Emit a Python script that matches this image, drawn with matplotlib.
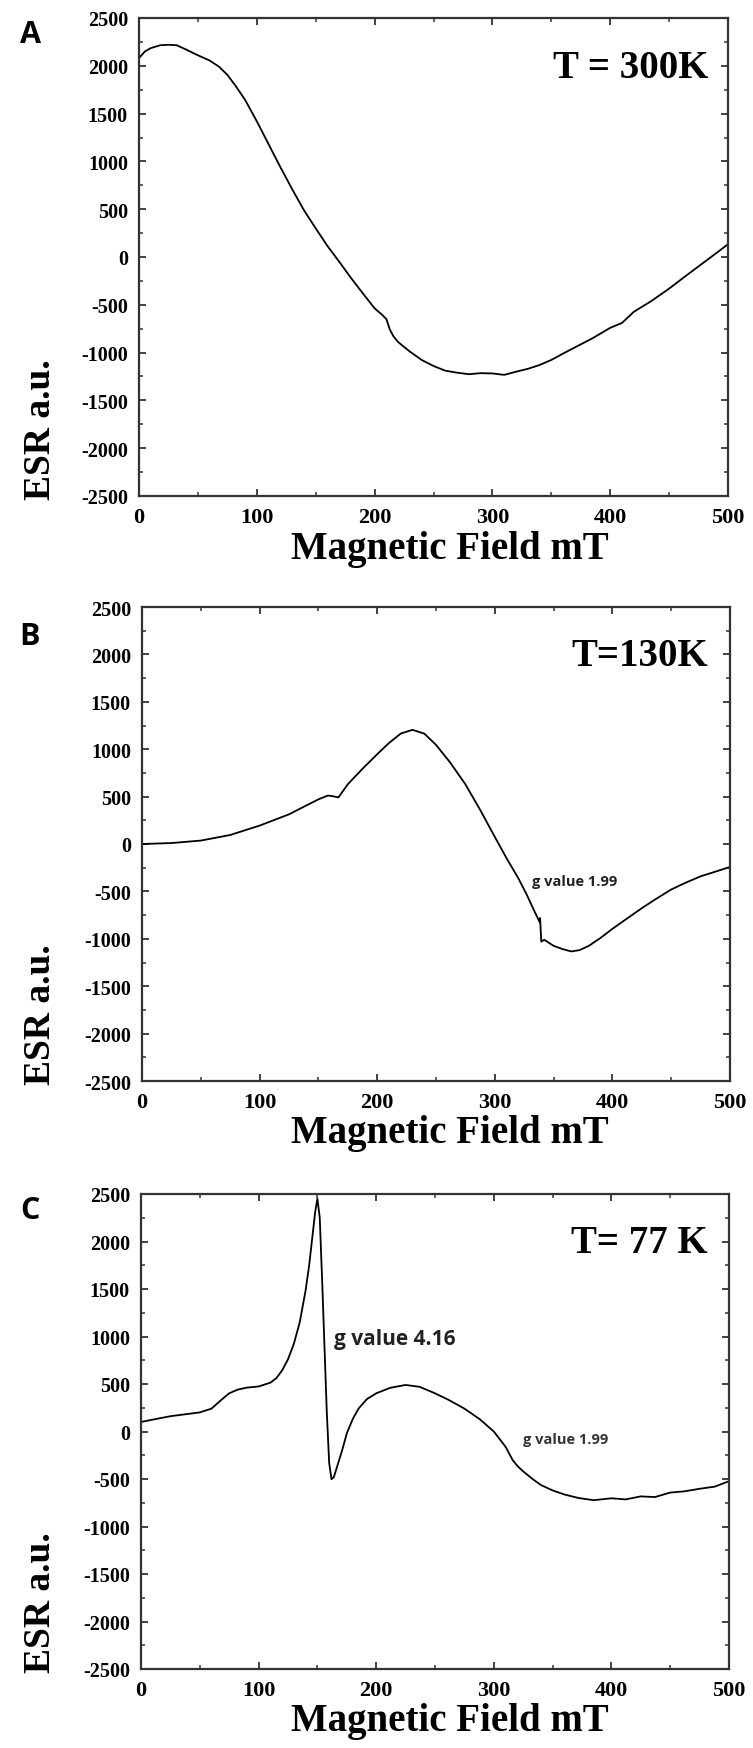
import numpy as np
import matplotlib
matplotlib.use("Agg")
import matplotlib.pyplot as plt
from matplotlib.ticker import MultipleLocator

plt.rcParams["axes.unicode_minus"] = False

# ESR spectra (field in mT, signal in a.u.)
field_300k = [0, 5, 10, 18, 25, 32, 40, 50, 60, 68, 75, 82, 90, 100, 110, 120, 130, 140,
              150, 160, 170, 180, 190, 200, 206, 210, 213, 216, 220, 230, 240, 250, 260,
              270, 280, 290, 300, 310, 320, 330, 340, 350, 360, 370, 385, 400, 410, 420,
              435, 450, 465, 480, 490, 500]
signal_300k = [2080, 2150, 2185, 2215, 2220, 2215, 2170, 2110, 2055, 1990, 1905, 1790, 1645,
               1420, 1180, 940, 710, 490, 300, 115, -50, -220, -380, -537, -600, -650, -760,
               -830, -890, -990, -1077, -1140, -1189, -1210, -1226, -1215, -1218, -1233, -1200,
               -1170, -1130, -1077, -1010, -946, -850, -741, -690, -574, -460, -331, -190,
               -52, 40, 134]

field_130k = [0, 25, 50, 75, 100, 125, 150, 158, 162, 167, 175, 188, 200, 210, 220, 230, 240,
              250, 262, 275, 288, 300, 310, 320, 327, 334, 338, 338.5, 339.5, 342, 350, 358,
              365, 372, 380, 390, 400, 412, 425, 437, 450, 462, 475, 488, 500]
signal_130k = [0, 10, 36, 95, 194, 313, 471, 511, 505, 491, 630, 800, 947, 1065, 1165, 1204, 1165,
               1046, 860, 630, 350, 75, -150, -361, -530, -717, -820, -780, -1030, -1010, -1074,
               -1110, -1133, -1120, -1074, -990, -895, -790, -677, -580, -480, -410, -341, -290,
               -242]

field_77k = [0, 10, 25, 40, 50, 60, 68, 75, 82, 90, 100, 110, 115, 120, 125, 130, 135, 140, 143,
             146, 148, 150, 152, 154, 156, 158, 160, 162, 164, 167, 171, 175, 180, 185, 192, 200,
             212, 225, 237, 250, 262, 275, 288, 300, 310, 316, 320, 325, 333, 340, 350, 360,
             372, 385, 400, 412, 425, 437, 450, 462, 475, 488, 500]
signal_77k = [100, 125, 161, 185, 201, 241, 330, 402, 440, 462, 474, 514, 560, 643, 760, 924, 1150,
              1487, 1750, 2080, 2300, 2452, 2250, 1600, 900, 200, -330, -502, -480, -360, -200,
              -20, 130, 241, 340, 402, 460, 490, 470, 402, 330, 241, 130, 0, -161, -300, -362,
              -420, -500, -563, -620, -663, -700, -723, -703, -715, -683, -690, -643, -630, -603,
              -580, -523]

panels = [
    ("A", "T = 300K", field_300k, signal_300k),
    ("B", "T=130K", field_130k, signal_130k),
    ("C", "T= 77 K", field_77k, signal_77k),
]

W, H = 753, 1749
fig = plt.figure(figsize=(W / 100, H / 100), dpi=100)

serif = ["Liberation Serif", "DejaVu Serif"]
sans = ["Open Sans", "DejaVu Sans"]

# axes boxes in pixels: left, top, right, bottom
boxes = [(139, 19, 728, 497), (142, 608, 730, 1082), (141, 1195, 729, 1670)]
letter_y = [35, 637, 1211]
temp_y = [68, 656, 1244]


def fx(x):
    return x / W


def fy(y):
    return 1 - y / H


for i, (letter, temp, xs, ys) in enumerate(panels):
    l, t, r, b = boxes[i]
    ax = fig.add_axes([fx(l), fy(b), (r - l) / W, (b - t) / H])
    ax.plot(xs, ys, color="black", lw=1.3)
    ax.set_xlim(0, 500)
    ax.set_ylim(-2500, 2500)
    ax.xaxis.set_major_locator(MultipleLocator(100))
    ax.xaxis.set_minor_locator(MultipleLocator(50))
    ax.yaxis.set_major_locator(MultipleLocator(500))
    ax.yaxis.set_minor_locator(MultipleLocator(250))
    ax.tick_params(which="both", direction="in", top=True, right=True, color="#333333")
    ax.tick_params(which="major", length=5, width=1.3)
    ax.tick_params(which="minor", length=3, width=1.1)
    ax.tick_params(axis="y", labelsize=14.5, pad=8)
    ax.tick_params(axis="x", labelsize=16, pad=8)
    for lab in ax.get_xticklabels() + ax.get_yticklabels():
        lab.set_family(serif)
        lab.set_fontweight("bold")
    for sp in ax.spines.values():
        sp.set_linewidth(1.6)
        sp.set_color("#333333")

    fig.text(fx(30), fy(letter_y[i]), letter, family=sans, fontweight="bold",
             fontsize=22, ha="center", va="center")
    fig.text(fx(708), fy(temp_y[i]), temp, family=serif, fontweight="bold",
             fontsize=28, ha="right", va="center")
    fig.text(fx(40), fy(b + 3), "ESR a.u.", family=serif, fontweight="bold",
             fontsize=27, rotation=90, ha="center", va="bottom")
    fig.text(fx(450), fy(b + 52), "Magnetic Field mT", family=serif, fontweight="bold",
             fontsize=28, ha="center", va="center")

    if letter == "B":
        ax.text(332, -390, "g value 1.99", family=sans, fontweight="bold",
                fontsize=10.5, ha="left", va="center", color="#222222")
    if letter == "C":
        ax.text(164, 984, "g value 4.16", family=sans, fontweight="bold",
                fontsize=15, ha="left", va="center", color="#222222")
        ax.text(325, -79, "g value 1.99", family=sans, fontweight="bold",
                fontsize=10.5, ha="left", va="center", color="#333333")

fig.savefig("out.png", dpi=100, facecolor="white")
